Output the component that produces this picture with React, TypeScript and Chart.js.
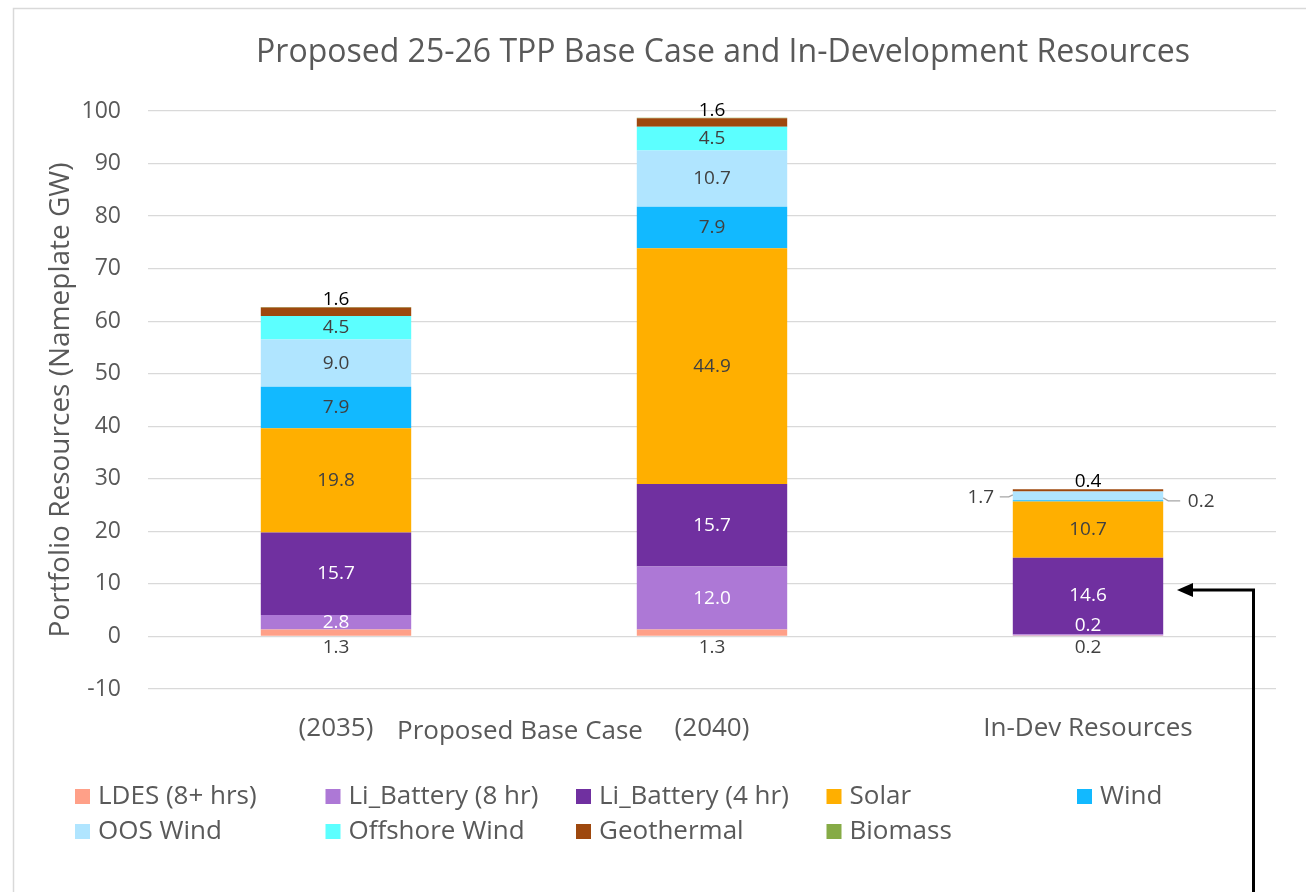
import React, { useEffect, useRef } from "react";
import { Chart, registerables } from "chart.js";

Chart.register(...registerables);

const categories = ["(2035)", "(2040)", "In-Dev Resources"];
const groupLabel = "Proposed Base Case";
const chartTitle = "Proposed 25-26 TPP Base Case and In-Development Resources";
const yAxisTitle = "Portfolio Resources (Nameplate GW)";

const seriesNames = [
  "LDES (8+ hrs)",
  "Li_Battery (8 hr)",
  "Li_Battery (4 hr)",
  "Solar",
  "Wind",
  "OOS Wind",
  "Offshore Wind",
  "Geothermal",
  "Biomass",
];
const ldes = [1.3, 1.3, 0.2];
const liBattery8 = [2.8, 12.0, 0.2];
const liBattery4 = [15.7, 15.7, 14.6];
const solar = [19.8, 44.9, 10.7];
const wind = [7.9, 7.9, 0.2];
const oosWind = [9.0, 10.7, 1.7];
const offshoreWind = [4.5, 4.5, 0];
const geothermal = [1.6, 1.6, 0.4];
const biomass = [0.1, 0.1, 0];
const seriesColors = [
  "#FFA088",
  "#AD78D6",
  "#7030A0",
  "#FFAF00",
  "#12B9FF",
  "#B0E5FF",
  "#5CFFFF",
  "#9E480E",
  "#86AB46",
];

const FONT = "'Open Sans', 'DejaVu Sans', sans-serif";
const GRAY = "#595959";
const LABEL_GRAY = "#404040";

const seriesValues = [ldes, liBattery8, liBattery4, solar, wind, oosWind, offshoreWind, geothermal, biomass];

const decorPlugin = {
  id: "decor",
  beforeDraw(chart: any) {
    const ctx = chart.ctx;
    ctx.save();
    ctx.strokeStyle = "#d9d9d9";
    ctx.lineWidth = 1.5;
    ctx.beginPath();
    ctx.moveTo(13.5, 900);
    ctx.lineTo(13.5, 8.5);
    ctx.lineTo(1320, 8.5);
    ctx.stroke();
    ctx.restore();
  },
  afterDraw(chart: any) {
    const ctx = chart.ctx;
    ctx.save();
    // Title
    ctx.fillStyle = GRAY;
    ctx.font = `32px ${FONT}`;
    ctx.textAlign = "center";
    ctx.textBaseline = "middle";
    ctx.fillText(chartTitle, 723, 53);

    // Group label for the multi-level category axis
    const xs = chart.scales.x;
    const gx = (xs.getPixelForValue(0) + xs.getPixelForValue(1)) / 2 - 4;
    ctx.font = `26px ${FONT}`;
    ctx.fillText(groupLabel, gx, 732);

    // Legend (grid layout)
    ctx.textAlign = "left";
    ctx.font = `26px ${FONT}`;
    seriesNames.forEach((name, i) => {
      const row = i < 5 ? 0 : 1;
      const col = i < 5 ? i : i - 5;
      const x = 75 + col * 250.5;
      const y = row === 0 ? 796 : 831;
      ctx.fillStyle = seriesColors[i];
      ctx.fillRect(x, y - 7, 15, 15);
      ctx.fillStyle = GRAY;
      ctx.fillText(name, x + 23, y + 1);
    });

    // Data labels
    const ys = chart.scales.y;
    const zeroY = ys.getPixelForValue(0);
    ctx.textAlign = "center";
    ctx.font = `19px ${FONT}`;
    chart.data.datasets.forEach((ds: any, i: number) => {
      if (i === 8) return;
      const meta = chart.getDatasetMeta(i);
      meta.data.forEach((el: any, j: number) => {
        const v = ds.data[j];
        if (!v) return;
        const text = v.toFixed(1);
        const left = el.x - el.width / 2;
        const right = el.x + el.width / 2;
        let x = el.x;
        let y = (el.y + el.base) / 2;
        let color = i === 1 || i === 2 ? "#ffffff" : LABEL_GRAY;
        if (i === 0) {
          y = zeroY + 11;
          color = LABEL_GRAY;
        } else if (i === 7) {
          y = el.y - 8;
          color = "#000000";
        } else if (j === 2 && i === 1) {
          y = y - 9;
        } else if (j === 2 && i === 4) {
          ctx.strokeStyle = "#a6a6a6";
          ctx.lineWidth = 1.2;
          ctx.beginPath();
          ctx.moveTo(right, y - 3);
          ctx.lineTo(right + 5, y);
          ctx.lineTo(right + 17, y);
          ctx.stroke();
          x = right + 38;
          y = y + 1;
        } else if (j === 2 && i === 5) {
          ctx.strokeStyle = "#a6a6a6";
          ctx.lineWidth = 1.2;
          ctx.beginPath();
          ctx.moveTo(left, y - 1);
          ctx.lineTo(left - 4, y + 1);
          ctx.lineTo(left - 13, y + 1);
          ctx.stroke();
          x = left - 32;
          y = y + 2;
        }
        ctx.fillStyle = color;
        ctx.fillText(text, x, y);
      });
    });

    // Annotation arrow
    ctx.strokeStyle = "#000000";
    ctx.fillStyle = "#000000";
    ctx.lineWidth = 3;
    ctx.beginPath();
    ctx.moveTo(1253.5, 900);
    ctx.lineTo(1253.5, 590);
    ctx.lineTo(1190, 590);
    ctx.stroke();
    ctx.beginPath();
    ctx.moveTo(1177, 590);
    ctx.lineTo(1193, 583);
    ctx.lineTo(1193, 597);
    ctx.closePath();
    ctx.fill();
    ctx.restore();
  },
};

export default function App() {
  const canvasRef = useRef<HTMLCanvasElement | null>(null);

  useEffect(() => {
    if (!canvasRef.current) return;
    const chart = new Chart(canvasRef.current, {
      type: "bar",
      data: {
        labels: categories,
        datasets: seriesNames.map((name, i) => ({
          label: name,
          data: seriesValues[i],
          backgroundColor: seriesColors[i],
          borderWidth: 0,
          barPercentage: 0.4,
          categoryPercentage: 1.0,
        })),
      },
      options: {
        responsive: false,
        animation: false,
        layout: { padding: { left: 0, top: 111, right: 30, bottom: 0 } },
        plugins: {
          legend: { display: false },
          title: { display: false },
          tooltip: { enabled: false },
        },
        scales: {
          x: {
            stacked: true,
            grid: { display: false, drawTicks: false },
            border: { display: false },
            ticks: {
              color: GRAY,
              font: { family: FONT, size: 26 },
              padding: 24,
              maxRotation: 0,
            },
            afterFit: (s: any) => {
              s.height = 203;
            },
          },
          y: {
            stacked: true,
            min: -10,
            max: 100,
            grid: { color: "#d9d9d9", lineWidth: 1.3, drawTicks: false },
            border: { display: false },
            ticks: {
              stepSize: 10,
              color: GRAY,
              font: { family: FONT, size: 23 },
              padding: 27,
            },
            title: {
              display: true,
              text: yAxisTitle,
              color: GRAY,
              font: { family: FONT, size: 28 },
              padding: { top: 44, bottom: 0 },
            },
            afterFit: (s: any) => {
              s.width = 148;
            },
          },
        },
      },
      plugins: [decorPlugin],
    });
    return () => chart.destroy();
  }, []);

  return (
    <div style={{ position: "fixed", left: 0, top: 0, width: 1306, height: 892, background: "#ffffff" }}>
      <canvas ref={canvasRef} width={1306} height={892} style={{ display: "block" }} />
    </div>
  );
}
